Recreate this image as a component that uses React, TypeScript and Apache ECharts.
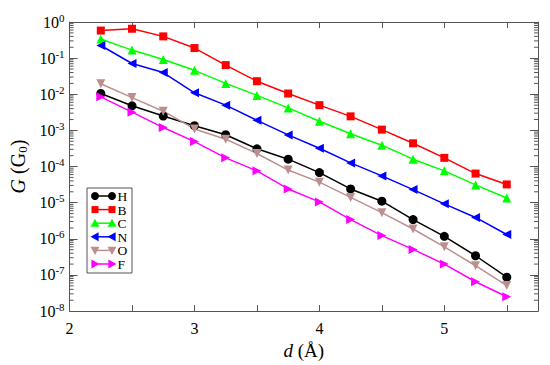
import React, { useEffect, useRef } from "react";
import * as echarts from "echarts";

const distances = [2.25, 2.5, 2.75, 3.0, 3.25, 3.5, 3.75, 4.0, 4.25, 4.5, 4.75, 5.0, 5.25, 5.5];
const gH = [1.05e-2, 4.8e-3, 2.5e-3, 1.35e-3, 7.6e-4, 3.1e-4, 1.6e-4, 6.8e-5, 2.4e-5, 1.1e-5, 3.4e-6, 1.17e-6, 3.4e-7, 8.7e-8];
const gB = [0.58, 0.65, 0.4, 0.19, 0.064, 0.023, 0.0105, 5.0e-3, 2.45e-3, 1.05e-3, 4.4e-4, 1.74e-4, 6.4e-5, 3.2e-5];
const gC = [0.34, 0.167, 0.092, 0.046, 0.02, 9.3e-3, 4.2e-3, 1.8e-3, 8.1e-4, 3.9e-4, 1.6e-4, 7.6e-5, 3.1e-5, 1.35e-5];
const gN = [0.224, 0.071, 0.04, 0.011, 5.0e-3, 1.9e-3, 7.5e-4, 3.2e-4, 1.26e-4, 5.5e-5, 2.3e-5, 9.3e-6, 3.9e-6, 1.32e-6];
const gO = [0.0196, 8.1e-3, 3.4e-3, 1.1e-3, 5.7e-4, 2.3e-4, 8.0e-5, 3.7e-5, 1.4e-5, 5.3e-6, 1.87e-6, 6.0e-7, 1.8e-7, 5.1e-8];
const gF = [8.5e-3, 3.2e-3, 1.2e-3, 4.9e-4, 1.74e-4, 7.6e-5, 2.4e-5, 1.05e-5, 3.4e-6, 1.23e-6, 5.1e-7, 2.0e-7, 6.5e-8, 2.5e-8];

const seriesNames = ["H", "B", "C", "N", "O", "F"];
const seriesValues = [gH, gB, gC, gN, gO, gF];
const seriesColors = ["#000000", "#ff0000", "#00ff00", "#0000ff", "#bc8f8f", "#ff00ff"];
const seriesSymbols = ["circle", "rect", "triangle", "triangle", "triangle", "triangle"];
const seriesRotate = [0, 0, 0, 90, 180, -90];
const seriesSizes = [9, 8, 9, 9, 9, 9];

const X_MIN = 2;
const X_MAX = 5.75;
const Y_MIN = 1e-8;
const Y_MAX = 1;

const minorTickValues: number[] = [];
for (let e = -8; e < 0; e++) {
  for (let m = 2; m <= 9; m++) minorTickValues.push(m * Math.pow(10, e));
}

const FONT = "'Liberation Serif', 'Times New Roman', Times, serif";
const AXIS_COLOR = "#555";

function legendMarker(kind: string, rot: number, cx: number, cy: number, color: string): any {
  if (kind === "circle") return { type: "circle", shape: { cx, cy, r: 4 }, style: { fill: color } };
  if (kind === "rect") return { type: "rect", shape: { x: cx - 3.5, y: cy - 3.5, width: 7, height: 7 }, style: { fill: color } };
  const s = 4.5;
  let pts: number[][];
  if (rot === 0) pts = [[cx, cy - s], [cx - s, cy + s * 0.8], [cx + s, cy + s * 0.8]];
  else if (rot === 180) pts = [[cx, cy + s], [cx - s, cy - s * 0.8], [cx + s, cy - s * 0.8]];
  else if (rot === 90) pts = [[cx - s, cy], [cx + s * 0.8, cy - s], [cx + s * 0.8, cy + s]];
  else pts = [[cx + s, cy], [cx - s * 0.8, cy - s], [cx - s * 0.8, cy + s]];
  return { type: "polygon", shape: { points: pts }, style: { fill: color } };
}

export default function App() {
  const ref = useRef<HTMLDivElement>(null);
  useEffect(() => {
    if (!ref.current) return;
    const chart = echarts.init(ref.current, null, { renderer: "svg" });

    const lineSeries = seriesNames.map((name, si) => ({
      name,
      type: "line",
      xAxisIndex: 0,
      yAxisIndex: 0,
      data: distances.map((d, i) => [d, seriesValues[si][i]]),
      symbol: seriesSymbols[si],
      symbolRotate: seriesRotate[si],
      symbolSize: seriesSizes[si],
      showAllSymbol: true,
      lineStyle: { color: seriesColors[si], width: 1.5 },
      itemStyle: { color: seriesColors[si] },
      z: 3,
    }));

    const minorSeries = {
      type: "custom",
      xAxisIndex: 0,
      yAxisIndex: 0,
      silent: true,
      clip: false,
      z: 1,
      data: minorTickValues.map((v) => [X_MIN, v]),
      renderItem: (params: any, api: any) => {
        const v = api.value(1);
        const l = api.coord([X_MIN, v]);
        const r = api.coord([X_MAX, v]);
        return {
          type: "group",
          children: [
            { type: "line", shape: { x1: l[0], y1: l[1], x2: l[0] + 4, y2: l[1] }, style: { stroke: AXIS_COLOR, lineWidth: 1 } },
            { type: "line", shape: { x1: r[0], y1: r[1], x2: r[0] - 4, y2: r[1] }, style: { stroke: AXIS_COLOR, lineWidth: 1 } },
          ],
        };
      },
    };

    const legendX = 87;
    const legendY = 188;
    const rowH = 13.6;
    const legendChildren: any[] = [
      { type: "rect", shape: { x: legendX, y: legendY, width: 45, height: 85 }, style: { fill: "#fff", stroke: AXIS_COLOR, lineWidth: 1 } },
    ];
    seriesNames.forEach((name, si) => {
      const cy = legendY + 8 + si * rowH;
      const c = seriesColors[si];
      legendChildren.push({ type: "line", shape: { x1: 95, y1: cy, x2: 112, y2: cy }, style: { stroke: c, lineWidth: 1.5 } });
      legendChildren.push(legendMarker(seriesSymbols[si], seriesRotate[si], 95, cy, c));
      legendChildren.push(legendMarker(seriesSymbols[si], seriesRotate[si], 112, cy, c));
      legendChildren.push({
        type: "text",
        style: { text: name, x: 117.5, y: cy + 0.5, fill: "#000", font: `13.5px ${FONT}`, verticalAlign: "middle", align: "left" },
      });
    });

    const xCommon = {
      type: "value",
      min: X_MIN,
      max: X_MAX,
      interval: 0.5,
      splitLine: { show: false },
      axisLine: { show: true, onZero: false, lineStyle: { color: AXIS_COLOR, width: 1 } },
      axisTick: { show: true, inside: true, length: 6, lineStyle: { color: AXIS_COLOR } },
    };
    const yCommon = {
      type: "log",
      logBase: 10,
      min: Y_MIN,
      max: Y_MAX,
      splitNumber: 8,
      splitLine: { show: false },
      axisLine: { show: true, lineStyle: { color: AXIS_COLOR, width: 1 } },
      axisTick: { show: true, inside: true, length: 8, lineStyle: { color: AXIS_COLOR } },
    };

    chart.setOption({
      animation: false,
      backgroundColor: "#fff",
      grid: { left: 67, right: 12, top: 22, bottom: 48, containLabel: false },
      xAxis: [
        {
          ...xCommon,
          position: "bottom",
          axisLabel: {
            show: true,
            margin: 9,
            color: "#000",
            fontFamily: FONT,
            fontSize: 16,
            formatter: (v: number) => (Math.abs(v - Math.round(v)) < 1e-9 ? String(Math.round(v)) : ""),
          },
          name: "{i|d} (Å)",
          nameLocation: "middle",
          nameGap: 25,
          nameTextStyle: {
            color: "#000",
            fontFamily: FONT,
            fontSize: 19,
            rich: { i: { fontStyle: "italic", fontFamily: FONT, fontSize: 19, color: "#000" } },
          },
        },
        { ...xCommon, position: "top", axisLabel: { show: false } },
      ],
      yAxis: [
        {
          ...yCommon,
          position: "left",
          axisLabel: {
            show: true,
            margin: 5,
            color: "#000",
            fontFamily: FONT,
            fontSize: 16,
            formatter: (v: number) => `10{sup|${Math.round(Math.log10(v))}}`,
            rich: {
              sup: { fontSize: 11, fontFamily: FONT, color: "#000", verticalAlign: "top", padding: [0, 0, 9, 0] },
            },
          },
          name: "{i|G} (G{sub|0})",
          nameLocation: "middle",
          nameGap: 40,
          nameRotate: 90,
          nameTextStyle: {
            color: "#000",
            fontFamily: FONT,
            fontSize: 20,
            rich: {
              i: { fontStyle: "italic", fontFamily: FONT, fontSize: 20, color: "#000" },
              sub: { fontSize: 13, fontFamily: FONT, color: "#000", padding: [8, 0, 0, 0] },
            },
          },
        },
        { ...yCommon, position: "right", axisLabel: { show: false } },
      ],
      series: [minorSeries, ...lineSeries],
      graphic: [{ type: "group", z: 100, children: legendChildren }],
    });
    return () => chart.dispose();
  }, []);
  return <div ref={ref} style={{ position: "absolute", left: 0, top: 0, width: 550, height: 365 }} />;
}
